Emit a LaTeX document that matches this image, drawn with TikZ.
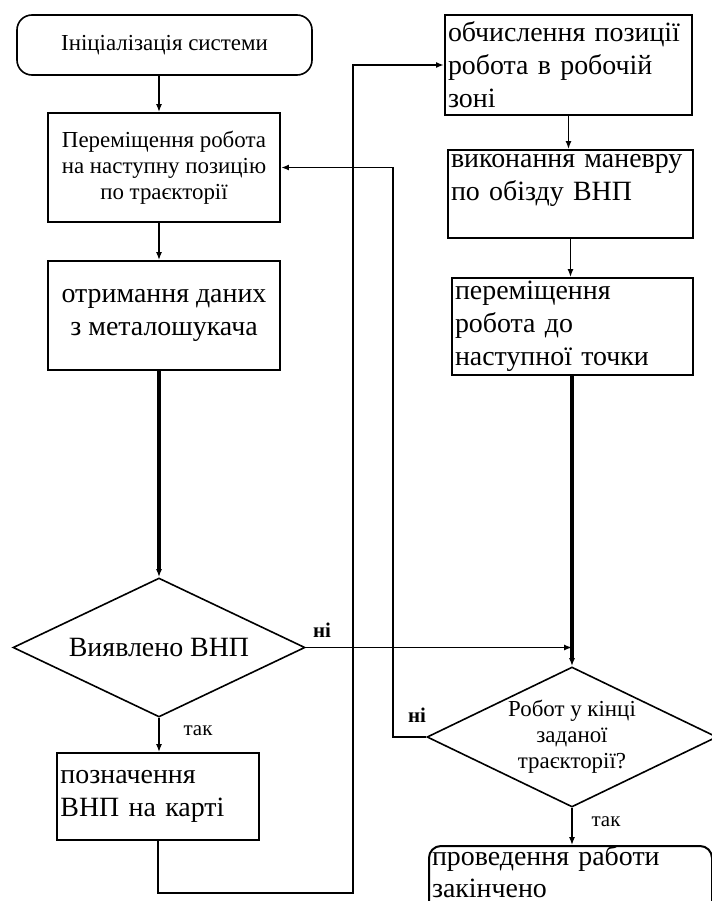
\documentclass[tikz,border=0pt]{standalone}
\usepackage{fontspec}
\setmainfont{Liberation Serif}
\usetikzlibrary{arrows.meta, shapes.geometric, calc}
\newcommand{\smalltxt}{\fontsize{23}{26}\selectfont}
\newcommand{\bigtxt}{\fontsize{28}{33}\selectfont}
\tikzset{
  box/.style={draw, line width=2bp, inner xsep=3bp, inner ysep=0bp, font=\bigtxt},
  startbox/.style={draw, line width=1.6bp, rounded corners=15bp, font=\smalltxt},
  decide/.style={draw, diamond, aspect=2, inner sep=0pt, line width=1.6bp},
  flow/.style={-{Latex[length=8pt,width=6pt]}, line width=1.3bp},
  flowthick/.style={-{Latex[length=8pt,width=6pt]}, line width=3.5bp},
  lbl/.style={font=\fontsize{21}{23}\selectfont}
}

\begin{document}
\begin{tikzpicture}[x=1bp,y=-1bp]
\useasboundingbox (0,0) rectangle (712,901);
\clip (0,0) rectangle (712,901);
\node[startbox, minimum width=295bp, minimum height=60bp] (init) at (164.5,45) {Ініціалізація системи};
\node[box, font=\smalltxt, minimum width=232bp, minimum height=109bp, align=center] (move) at (164,167.5) {Переміщення робота\\на наступну позицію\\по траєкторії};
\node[box, minimum width=232bp, minimum height=109bp, align=center] (data) at (164,315.5) {отримання даних\\з металошукача};
\node[decide, minimum width=292bp, minimum height=139bp, font=\bigtxt] (found) at (159,647.5) {Виявлено ВНП};
\node[box, text width=195bp, minimum height=87bp, align=left] (mark) at (158,796.5) {позначення\\ВНП на карті};
\node[box, text width=241bp, minimum height=100bp, align=left] (calc) at (568.5,65) {обчислення позиції\\робота в робочій\\зоні};
\node[box, text width=239bp, minimum height=88bp, align=left] (manv) at (570.5,194) {виконання маневру\\по обізду ВНП\\~};
\node[box, text width=235bp, minimum height=97bp, align=left] (next) at (572.5,326.5) {переміщення\\робота до\\наступної точки};
\node[decide, minimum width=290bp, minimum height=140bp, font=\smalltxt, align=center] (check) at (572,737) {Робот у кінці\\заданої\\траєкторії?};
\node[box, font=\fontsize{28}{32}\selectfont, rounded corners=12bp, anchor=north west, text width=277bp, text depth=60bp, align=left] (done) at (428,845) {проведення работи\\закінчено};
\coordinate (loopA) at (353,893);
\foreach \nm/\px/\py/\txt in {no1/322/630/\textbf{ні}, yes1/198/731/так, no2/417/715/\textbf{ні}, yes2/606/822/так}{
    \node[lbl] (\nm) at (\px,\py) {\txt};
}
\draw[flow] (init.south -| found.north) -- (move.north -| found.north);
\draw[flow] (move.south -| found.north) -- (data.north -| found.north);
\draw[flowthick] (data.south -| found.north) -- (found.north);
\draw[flow] (found.south) -- (found.south |- mark.north);
\draw[flow] (found.east) -- (found.east -| check.north);
\draw[flow, line width=2bp] (mark.south) |- (loopA) |- (calc.west);
\draw[flow, line width=1.6bp] (check.west) -- ++(-33,0) |- (move.east);
\draw[flow] (calc.south) -- (calc.south |- manv.north);
\draw[flow] (manv.south) -- (manv.south |- next.north);
\draw[flowthick] (next.south -| check.north) -- (check.north);
\draw[flow] (check.south) -- (check.south |- done.north);
\end{tikzpicture}
\end{document}
